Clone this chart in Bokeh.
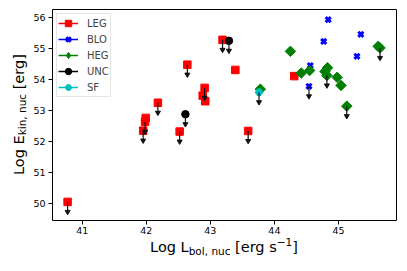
import math
from bokeh.plotting import figure
from bokeh.models import Range1d, FixedTicker, Legend, LegendItem, Div
from bokeh.layouts import row, column
from bokeh.embed import file_html
from bokeh.resources import INLINE

# ---------------- data ----------------
leg_x = [43.19, 42.64, 43.39, 42.91, 42.88, 42.92, 42.18, 41.99, 41.98, 41.95, 42.52, 43.59, 40.77, 44.31]
leg_y = [55.29, 54.49, 54.32, 53.74, 53.49, 53.31, 53.26, 52.77, 52.65, 52.36, 52.33, 52.35, 50.06, 54.12]
leg_ul = [1, 1, 0, 1, 0, 0, 1, 0, 1, 1, 1, 1, 1, 0]

blo_x = [44.84, 45.35, 44.77, 45.29, 44.56, 44.54]
blo_y = [55.94, 55.47, 55.24, 54.76, 54.46, 53.79]
blo_ul = [0, 0, 0, 0, 0, 1]

heg_x = [44.25, 44.42, 44.55, 44.83, 44.79, 44.82, 44.98, 45.04, 45.13, 45.62, 45.65, 43.78]
heg_y = [54.92, 54.22, 54.30, 54.39, 54.27, 54.14, 54.08, 53.82, 53.15, 55.08, 55.03, 53.70]
heg_ul = [0, 0, 0, 0, 0, 1, 0, 0, 1, 0, 1, 0]

unc_x = [43.29, 42.61]
unc_y = [55.26, 52.89]
unc_ul = [1, 1]

sf_x = [43.76]
sf_y = [53.60]
sf_ul = [1]

x_ticks = [41, 42, 43, 44, 45]
y_ticks = [50, 51, 52, 53, 54, 55, 56]

ARROW = 0.32  # length of upper-limit arrows (data units)
FONT = "DejaVu Sans"

p = figure(width=368, height=238,
           x_range=Range1d(40.534, 45.907), y_range=Range1d(49.46, 56.27),
           output_backend="svg", toolbar_location=None, title=None,
           min_border_left=20, min_border_right=2, min_border_top=9, min_border_bottom=18)
p.margin = 0
p.xgrid.visible = False
p.ygrid.visible = False
p.outline_line_color = "black"
p.outline_line_width = 1
p.background_fill_color = "white"
p.border_fill_color = "white"

for ax, ticks in ((p.xaxis, x_ticks), (p.yaxis, y_ticks)):
    ax.ticker = FixedTicker(ticks=ticks)
    ax.axis_line_color = None
    ax.major_tick_out = 4
    ax.major_tick_in = 0
    ax.minor_tick_line_color = None
    ax.major_tick_line_color = "black"
    ax.major_label_text_font = FONT
    ax.major_label_text_font_size = "9.5px"
    ax.major_label_text_color = "black"
p.xaxis.major_label_standoff = 2
p.yaxis.major_label_standoff = 3

series = [
    ("LEG", leg_x, leg_y, leg_ul, "#ff0000", dict(marker="square", size=7.5), "square"),
    ("BLO", blo_x, blo_y, blo_ul, "#0000ff", dict(marker="x", size=7.2, line_width=3), "x"),
    ("HEG", heg_x, heg_y, heg_ul, "#008000", dict(marker="square", size=7.4, angle=math.pi / 4), "diamond"),
    ("UNC", unc_x, unc_y, unc_ul, "#000000", dict(marker="circle", size=7.5), "circle"),
    ("SF", sf_x, sf_y, sf_ul, "#00bfbf", dict(marker="hex", size=7.5), "hex"),
]

items = []
for name, xs, ys, ul, col, mk, lmk in series:
    p.scatter(xs, ys, color=col, **mk)
    ax_ = [x for x, u in zip(xs, ul) if u]
    ay_ = [y for y, u in zip(ys, ul) if u]
    if ax_:
        tips = [y - ARROW for y in ay_]
        p.segment(x0=ax_, y0=ay_, x1=ax_, y1=tips, line_color="#111111", line_width=1.2)
        p.scatter(ax_, tips, marker="inverted_triangle", size=5, color="#111111")
    # legend-only renderers
    lr = p.line([float("nan")], [float("nan")], line_color=col, line_width=1.5)
    lm_kw = {k: v for k, v in mk.items() if k not in ("marker", "size", "angle")}
    sr = p.scatter([float("nan")], [float("nan")], marker=lmk, color=col, **lm_kw)
    items.append(LegendItem(label=name, renderers=[lr, sr]))

legend = Legend(items=items, location="top_left", margin=4, padding=1, spacing=-2,
                glyph_height=16, glyph_width=20, label_standoff=9, label_height=10,
                label_text_font=FONT, label_text_font_size="10px",
                border_line_color="#cccccc", border_line_width=1,
                background_fill_color="white", background_fill_alpha=0.8)
p.add_layout(legend)

# axis titles with sub/superscripts as real (HTML) text
base = ("font-family:'DejaVu Sans';font-size:14.5px;line-height:17px;color:black;"
        "white-space:nowrap;text-align:center;")
sub = "font-size:10.5px;line-height:0;vertical-align:-3px;"
sup = "font-size:10.5px;line-height:0;vertical-align:6px;"

x_title = (f'<div style="{base}margin-left:21px;width:346px;padding-top:1px;">'
           f'Log L<span style="{sub}">bol, nuc</span> [erg s<span style="{sup}">\u22121</span>]</div>')
y_title = (f'<div style="{base}writing-mode:vertical-rl;transform:rotate(180deg);'
           f'margin-top:9px;height:211px;width:17px;margin-left:11px;">'
           f'Log E<span style="{sub}">kin, nuc</span> [erg]</div>')

xdiv = Div(text=x_title, width=368, height=25, margin=0)
ydiv = Div(text=y_title, width=30, height=263, margin=0)

layout = row(ydiv, column(p, xdiv, spacing=0, margin=0), spacing=0, margin=0)

open("out.html", "w").write(file_html(layout, INLINE))
